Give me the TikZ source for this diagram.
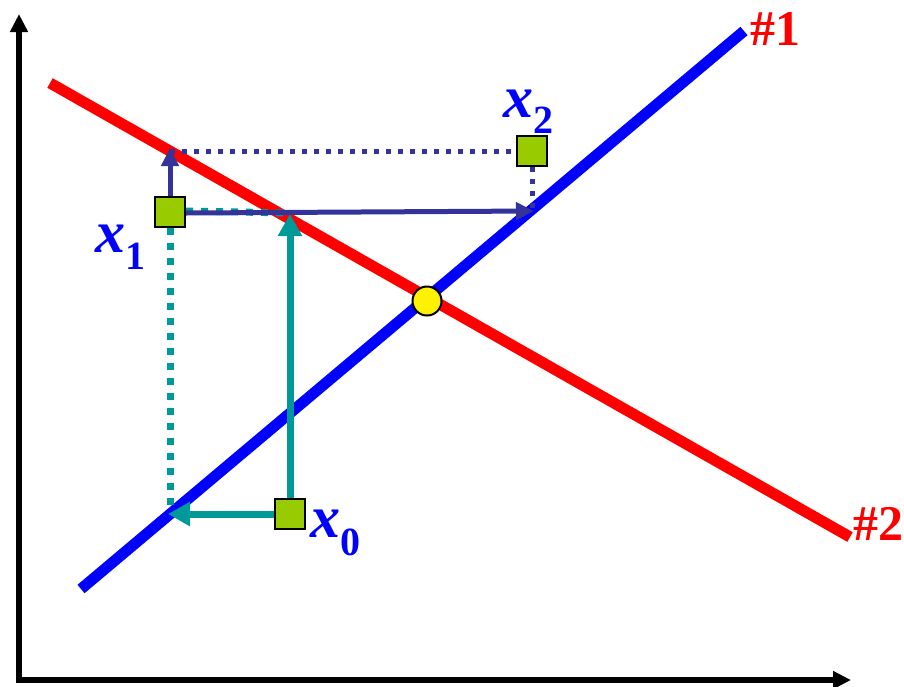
\documentclass[tikz,border=0pt]{standalone}
\usepackage{fontspec}
\setmainfont{Liberation Serif}
\usetikzlibrary{arrows.meta}
\definecolor{tealc}{RGB}{0,153,153}
\definecolor{navyc}{RGB}{51,51,153}
\definecolor{greenc}{RGB}{153,204,0}
\begin{document}
\begin{tikzpicture}[x=1pt,y=-1pt,
  axisline/.style={line width=6pt,-{Triangle[length=18pt,width=17pt]}},
  bigline/.style={line width=11pt},
  tealarrow/.style={tealc,line width=7pt,-{Triangle[length=22pt,width=23pt]}},
  navyarrow/.style={navyc,line width=5pt,-{Triangle[length=18pt,width=17pt]}},
  tealdot/.style={tealc,line width=7pt,dash pattern=on 7pt off 8pt},
  navydot/.style={navyc,line width=5pt,dash pattern=on 5pt off 7pt},
  sq/.style={draw=black,line width=2pt,fill=greenc,minimum size=30pt,inner sep=0pt},
  eq/.style={circle,draw=black,line width=2pt,fill=yellow,minimum size=29pt,inner sep=0pt},
  lab/.style={text=blue,inner sep=0pt,font=\fontsize{60}{60}\selectfont\bfseries},
  numlab/.style={text=red,inner sep=0pt,font=\fontsize{50}{50}\selectfont\bfseries}]
\useasboundingbox (0,0) rectangle (904,686);
% axes
\coordinate (yb) at (19,683);
\coordinate (ytop) at (19,14);
\coordinate (xb) at (16,680);
\coordinate (xend) at (851,680);
\draw[axisline] (yb) -- (ytop);
\draw[axisline] (xb) -- (xend);
% lines
\coordinate (r1) at (50,83);
\coordinate (r2) at (850,537);
\coordinate (b1) at (81,589);
\coordinate (b2) at (744,31);
\draw[bigline,red] (r1) -- (r2);
\draw[bigline,blue] (b1) -- (b2);
% squares
\node[sq] (s0) at (290,514) {};
\node[sq] (s1) at (170,212) {};
\node[sq] (s2) at (532,151) {};
% points on lines
\coordinate (t1) at (290,214);
\coordinate (t2) at (168,514);
\coordinate (n1) at (170,148);
\coordinate (n2) at (534,211);
\coordinate (d1) at (170,512);
\coordinate (d2) at (290,213);
\coordinate (d2s) at ([yshift=1pt]s1.east);
\coordinate (d3) at (170,151);
\coordinate (d4) at (532,210);
% dotted guides
\draw[tealdot] (s1.south) -- (d1);
\draw[tealdot] (d2s) -- (d2);
\draw[navydot] (d3) -- (s2.west);
\draw[navydot] (s2.south) -- (d4);
% arrows
\draw[tealarrow] (s0.north) -- (t1);
\draw[tealarrow] (s0.west) -- (t2);
\draw[navyarrow] (s1.north) -- (n1);
\draw[navyarrow] ([yshift=-1pt]s1.east) -- (n2);
% redraw squares on top
\node[sq] at (s0) {};
\node[sq] at (s1) {};
\node[sq] at (s2) {};
% equilibrium
\node[eq] (eqp) at (427,301) {};
% labels
\node[lab,anchor=base west] (l0) at (310,537) {\itshape x\raisebox{-18pt}{\fontsize{40}{40}\selectfont\upshape 0}};
\node[lab,anchor=base west] (l1) at (95,252) {\itshape x\raisebox{-17pt}{\fontsize{40}{40}\selectfont\upshape 1}};
\node[lab,anchor=base west] (l2) at (503,117) {\itshape x\raisebox{-16pt}{\fontsize{40}{40}\selectfont\upshape 2}};
\node[numlab,anchor=base west] (h1) at (750,45) {\#1};
\node[numlab,anchor=base west] (h2) at (853,540) {\#2};
\end{tikzpicture}
\end{document}
